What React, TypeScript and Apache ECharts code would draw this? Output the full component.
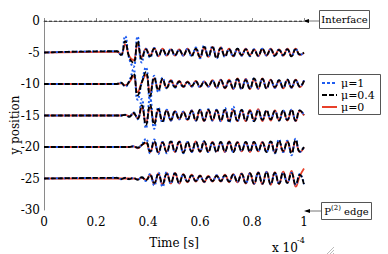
import React, { useEffect, useRef } from "react";
import * as echarts from "echarts";

const FONT = "DejaVu Serif";

// time samples (x 10^-4 s)
const T = [
  0.280, 0.296, 0.312, 0.328, 0.344, 0.360, 0.376, 0.392, 0.408, 0.424,
  0.440, 0.456, 0.472, 0.488, 0.504, 0.520, 0.536, 0.552, 0.568, 0.584,
  0.600, 0.616, 0.632, 0.648, 0.664, 0.680, 0.696, 0.712, 0.728, 0.744,
  0.760, 0.776, 0.792, 0.808, 0.824, 0.840, 0.856, 0.872, 0.888, 0.904,
  0.920, 0.936, 0.952, 0.968, 0.984, 1.000,
];

const baselines = [-5, -10, -15, -20, -25];
const legendNames = ["μ=1", "μ=0.4", "μ=0"];

// displacement about each baseline, mu = 1 (blue)
const mu1_5 = [0.2, -0.5, 2.6, -1.0, -2.3, 2.5, -1.6, 0.6, -0.8, 0.7, -0.6, 0.5, -0.5, 0.6, -0.5, 0.4, -0.5, 0.6, -0.6, 0.8, -0.9, 1.1, -0.7, 1.0, -0.9, 0.8, -0.7, 0.5, -0.6, 0.6, -0.5, 0.5, -0.6, 0.5, -0.5, 0.6, -0.5, 0.5, -0.6, 0.5, -0.5, 0.5, -0.6, 0.6, -0.4, 0.0];
const mu1_10 = [0.0, 0.2, -0.4, 0.5, 2.3, -2.5, 0.3, 2.6, -2.6, 1.3, -1.3, 1.0, -0.7, 0.6, -0.6, 0.4, -0.5, 0.3, -0.4, 0.4, -0.5, 0.4, -0.4, 0.5, -0.6, 0.6, -0.6, 0.6, -0.7, 0.8, -0.8, 0.7, -0.7, 0.9, -0.7, 0.8, -0.7, 0.6, -0.6, 0.6, -0.6, 0.7, -0.6, 0.6, -0.4, 0.6];
const mu1_15 = [0.0, 0.0, 0.1, -0.2, 0.5, -0.6, 2.6, -2.0, 2.8, -2.1, 1.3, -1.1, 0.9, -0.8, 0.7, -0.6, 0.6, -0.7, 0.8, -0.8, 0.9, -0.8, 1.0, -0.8, 0.9, -0.9, 1.2, -1.1, 1.4, -0.9, 0.9, -0.8, 0.7, -0.9, 0.8, -0.7, 0.8, -0.6, 0.7, -0.8, 0.8, -0.7, 0.9, -0.8, 0.8, 0.1];
const mu1_20 = [0.0, 0.0, 0.0, 0.0, 0.1, -0.1, 0.4, 1.3, -1.0, 1.2, -1.1, 0.8, -1.0, 1.0, -0.8, 0.9, -1.0, 0.8, -0.8, 0.8, -0.7, 0.9, -0.8, 0.7, -0.8, 0.8, -0.7, 0.8, -0.8, 0.7, -0.6, 0.8, -0.7, 0.8, -0.6, 0.7, -0.8, 0.9, -1.0, 1.2, -0.8, 1.0, -1.3, 1.3, -0.8, 0.0];
const mu1_25 = [0.1, -0.1, 0.1, -0.1, 0.1, -0.2, 0.2, -0.4, 0.7, -1.1, 0.9, -1.3, 1.0, -0.8, 0.9, -0.7, 0.6, -0.5, 0.5, -0.4, 0.4, -0.5, 0.3, -0.4, 0.5, -0.4, 0.5, -0.5, 0.6, -0.5, 0.7, -0.7, 0.8, -0.8, 0.9, -0.8, 1.0, -0.9, 0.9, -0.8, 0.9, -0.7, 0.9, -1.0, 0.7, -0.9];

// mu = 0.4 (black dashed)
const mu04_5 = [0.2, -0.4, 1.8, -0.8, -1.6, 1.8, -1.0, 0.5, -0.6, 0.6, -0.5, 0.5, -0.4, 0.5, -0.4, 0.4, -0.4, 0.5, -0.5, 0.6, -0.7, 0.9, -0.6, 0.8, -0.9, 0.7, -0.6, 0.5, -0.5, 0.6, -0.4, 0.5, -0.5, 0.4, -0.5, 0.6, -0.4, 0.5, -0.5, 0.4, -0.4, 0.5, -0.6, 0.5, -0.3, 0.0];
const mu04_10 = [0.0, 0.2, -0.3, 0.4, 1.6, -1.8, 0.2, 1.9, -1.9, 1.0, -1.0, 0.8, -0.6, 0.5, -0.5, 0.4, -0.4, 0.3, -0.3, 0.4, -0.4, 0.3, -0.3, 0.5, -0.5, 0.6, -0.6, 0.5, -0.7, 0.8, -0.8, 0.6, -0.7, 0.9, -0.6, 0.8, -0.7, 0.6, -0.5, 0.6, -0.6, 0.7, -0.5, 0.6, -0.4, 0.5];
const mu04_15 = [0.0, 0.0, 0.1, -0.2, 0.4, -0.5, 1.6, -1.5, 1.7, -1.4, 1.0, -0.9, 0.8, -0.7, 0.6, -0.5, 0.5, -0.6, 0.7, -0.8, 0.9, -0.8, 0.9, -0.7, 0.8, -0.8, 0.9, -0.9, 0.8, -0.8, 0.9, -0.8, 0.7, -0.9, 0.8, -0.7, 0.8, -0.6, 0.7, -0.8, 0.8, -0.7, 0.9, -0.8, 0.8, 0.1];
const mu04_20 = [0.0, 0.0, 0.0, 0.0, 0.1, -0.1, 0.3, 0.8, -0.7, 0.9, -0.8, 0.7, -0.8, 0.9, -0.7, 0.8, -0.9, 0.8, -0.7, 0.8, -0.7, 0.9, -0.8, 0.7, -0.8, 0.8, -0.7, 0.8, -0.8, 0.7, -0.6, 0.8, -0.7, 0.8, -0.6, 0.7, -0.8, 0.9, -0.9, 1.0, -0.6, 0.8, -1.0, 1.1, -0.7, 0.0];
const mu04_25 = [0.1, -0.1, 0.1, -0.1, 0.1, -0.2, 0.2, -0.3, 0.5, -0.7, 0.6, -0.8, 0.7, -0.6, 0.8, -0.7, 0.6, -0.5, 0.5, -0.4, 0.4, -0.5, 0.3, -0.4, 0.4, -0.4, 0.5, -0.5, 0.6, -0.5, 0.7, -0.7, 0.8, -0.8, 0.9, -0.8, 1.0, -0.9, 0.9, -0.8, 0.9, -0.7, 0.8, -0.9, 0.6, -1.0];

// mu = 0 (red solid)
const mu0_5 = [0.1, -0.3, 1.3, -0.6, -1.2, 1.2, -0.7, 0.6, -0.5, 0.7, -0.6, 0.6, -0.5, 0.5, -0.5, 0.5, -0.5, 0.6, -0.4, 0.5, -0.8, 0.7, -0.7, 0.9, -0.7, 0.8, -0.5, 0.6, -0.6, 0.5, -0.5, 0.6, -0.4, 0.5, -0.6, 0.5, -0.5, 0.6, -0.4, 0.5, -0.5, 0.6, -0.5, 0.6, -0.4, -0.1];
const mu0_10 = [0.0, 0.1, -0.2, 0.3, 1.2, -1.3, 0.3, 1.4, -1.3, 0.9, -0.8, 0.7, -0.6, 0.6, -0.4, 0.5, -0.5, 0.4, -0.4, 0.5, -0.5, 0.4, -0.4, 0.6, -0.6, 0.7, -0.7, 0.7, -0.8, 0.9, -0.7, 0.8, -0.8, 0.7, -0.8, 0.9, -0.6, 0.7, -0.6, 0.5, -0.7, 0.6, -0.6, 0.7, -0.5, 0.6];
const mu0_15 = [0.0, 0.0, 0.1, -0.1, 0.3, -0.4, 1.2, -1.1, 1.3, -1.1, 0.9, -0.9, 0.8, -0.8, 0.7, -0.6, 0.6, -0.7, 0.8, -0.8, 0.9, -0.9, 0.8, -0.8, 0.9, -0.9, 0.8, -0.8, 0.9, -0.9, 0.8, -0.9, 0.9, -0.7, 1.0, -0.9, 0.7, -0.8, 0.8, -0.7, 0.7, -0.8, 0.8, -0.9, 0.7, 0.0];
const mu0_20 = [0.0, 0.0, 0.0, 0.0, 0.1, -0.2, 0.3, 0.6, -0.8, 0.7, -0.9, 0.8, -0.7, 0.8, -0.8, 0.9, -0.8, 0.7, -0.8, 0.9, -0.8, 0.8, -0.7, 0.8, -0.7, 0.7, -0.8, 0.9, -0.7, 0.8, -0.7, 0.7, -0.8, 0.7, -0.7, 0.8, -0.7, 0.8, -0.8, 0.9, -0.8, 0.9, -0.7, 0.8, -0.8, -0.1];
const mu0_25 = [0.0, 0.0, 0.0, 0.0, 0.0, -0.1, 0.1, -0.2, 0.6, -0.9, 0.8, -1.0, 0.9, -0.8, 0.9, -0.8, 0.7, -0.6, 0.6, -0.5, 0.5, -0.6, 0.4, -0.5, 0.5, -0.5, 0.6, -0.6, 0.7, -0.6, 0.8, -0.8, 0.9, -0.9, 1.0, -0.9, 1.1, -1.0, 1.0, -0.9, 1.1, -0.6, 1.2, -1.3, 0.4, 1.6];

const mu1 = [mu1_5, mu1_10, mu1_15, mu1_20, mu1_25];
const mu04 = [mu04_5, mu04_10, mu04_15, mu04_20, mu04_25];
const mu0 = [mu0_5, mu0_10, mu0_15, mu0_20, mu0_25];

const interfaceLine = [[0, 0], [1, 0]];

function traceData(base: number, disp: number[]) {
  return [[0, base], ...T.map((t, i) => [t, base + disp[i]])];
}

const BLUE = "#1f5cf0";
const RED = "#e8402a";
const BLACK = "#000000";

export default function App() {
  const ref = useRef<HTMLDivElement>(null);
  useEffect(() => {
    if (!ref.current) return;
    const chart = echarts.init(ref.current, null, { renderer: "svg" });

    const series: any[] = [];
    const styles = [
      { name: legendNames[2], sets: mu0, color: RED, type: "solid", width: 1.8, z: 2 },
      { name: legendNames[0], sets: mu1, color: BLUE, type: [2, 2], width: 2, z: 3 },
      { name: legendNames[1], sets: mu04, color: BLACK, type: [5, 2], width: 1.8, z: 4 },
    ];
    styles.forEach((s) => {
      baselines.forEach((b, k) => {
        series.push({
          type: "line",
          name: s.name,
          data: traceData(b, s.sets[k]),
          smooth: true,
          symbol: "none",
          showSymbol: false,
          silent: true,
          z: s.z,
          lineStyle: { color: s.color, type: s.type, width: s.width },
          itemStyle: { color: s.color },
        });
      });
    });
    series.push({
      type: "line",
      name: "interface",
      data: interfaceLine,
      symbol: "none",
      silent: true,
      z: 1,
      lineStyle: { color: "#000", type: [3, 2], width: 1 },
    });

    const legendRows = [
      { name: legendNames[0], color: BLUE, dash: [3, 2], y: 83 },
      { name: legendNames[1], color: BLACK, dash: [5, 2], y: 95 },
      { name: legendNames[2], color: RED, dash: null, y: 107 },
    ];
    const legendGraphics: any[] = [
      { type: "rect", shape: { x: 318.5, y: 74.5, width: 62, height: 40 }, style: { fill: "#fff", stroke: "#555", lineWidth: 1 }, z: 10 },
    ];
    legendRows.forEach((r) => {
      legendGraphics.push({
        type: "line",
        z: 11,
        shape: { x1: 322, y1: r.y, x2: 337, y2: r.y },
        style: { stroke: r.color, lineWidth: 2, lineDash: r.dash },
      });
      legendGraphics.push({
        type: "text",
        z: 11,
        x: 341,
        y: r.y,
        style: { text: r.name, fontFamily: FONT, fontSize: 11, lineHeight: 11, fill: "#000", align: "left", verticalAlign: "middle" },
      });
    });

    const grey = "#8a8a8a";
    chart.setOption({
      animation: false,
      grid: { left: 44, right: 84, top: 21, bottom: 43 },
      xAxis: {
        type: "value",
        min: 0,
        max: 1,
        interval: 0.2,
        axisLine: { show: true, lineStyle: { color: grey, width: 1 } },
        axisTick: { show: true, inside: true, length: 3, lineStyle: { color: grey } },
        axisLabel: { color: "#000", fontFamily: FONT, fontSize: 12, margin: 6 },
        splitLine: { show: false },
        name: "Time [s]",
        nameLocation: "middle",
        nameGap: 27,
        nameTextStyle: { color: "#000", fontFamily: FONT, fontSize: 12 },
      },
      yAxis: {
        type: "value",
        min: -30,
        max: 0,
        interval: 5,
        axisLine: { show: true, lineStyle: { color: grey, width: 1 } },
        axisTick: { show: false },
        axisLabel: { color: "#000", fontFamily: FONT, fontSize: 12, margin: 4 },
        splitLine: { show: false },
      },
      series,
      graphic: [
        {
          type: "text",
          x: 15,
          y: 125,
          rotation: Math.PI / 2,
          style: { text: "y position", fontFamily: FONT, fontSize: 12, fill: "#000", align: "center", verticalAlign: "middle" },
        },
        { type: "line", shape: { x1: 305, y1: 21, x2: 319, y2: 21 }, style: { stroke: "#777", lineWidth: 1 } },
        { type: "polygon", shape: { points: [[303, 21], [309, 19], [309, 23]] }, style: { fill: "#000" } },
        { type: "rect", shape: { x: 319.5, y: 10.5, width: 50, height: 18 }, style: { fill: "#fff", stroke: "#555", lineWidth: 1 } },
        {
          type: "text",
          x: 344.5,
          y: 19.5,
          style: { text: "Interface", fontFamily: FONT, fontSize: 10, fill: "#000", align: "center", verticalAlign: "middle" },
        },
        { type: "line", shape: { x1: 306, y1: 211, x2: 321, y2: 211 }, style: { stroke: "#777", lineWidth: 1 } },
        { type: "polygon", shape: { points: [[304, 211], [310, 209], [310, 213]] }, style: { fill: "#000" } },
        { type: "rect", shape: { x: 321.5, y: 202.5, width: 50, height: 17 }, style: { fill: "#fff", stroke: "#555", lineWidth: 1 } },
        {
          type: "text",
          x: 346.5,
          y: 211,
          style: {
            text: "{a|P}{b|(2)}{a| edge}",
            fill: "#000",
            align: "center",
            verticalAlign: "middle",
            rich: {
              a: { fontFamily: FONT, fontSize: 10, fill: "#000" },
              b: { fontFamily: FONT, fontSize: 7, fill: "#000", padding: [0, 0, 6, 0] },
            },
          },
        },
        {
          type: "text",
          x: 272,
          y: 248,
          style: { text: "x 10", fontFamily: FONT, fontSize: 12, fill: "#000", align: "left", verticalAlign: "middle" },
        },
        {
          type: "text",
          x: 297,
          y: 240,
          style: { text: "-4", fontFamily: FONT, fontSize: 8, fill: "#000", align: "left", verticalAlign: "middle" },
        },
        ...legendGraphics,
        { type: "line", shape: { x1: 334, y1: 247, x2: 327, y2: 254 }, style: { stroke: "#bbb", lineWidth: 1 } },
        { type: "line", shape: { x1: 334, y1: 250, x2: 330, y2: 254 }, style: { stroke: "#bbb", lineWidth: 1 } },
        { type: "line", shape: { x1: 334, y1: 253, x2: 333, y2: 254 }, style: { stroke: "#bbb", lineWidth: 1 } },
      ],
    });
    return () => chart.dispose();
  }, []);
  return <div ref={ref} style={{ width: 388, height: 254, position: "absolute", left: 0, top: 0 }} />;
}
